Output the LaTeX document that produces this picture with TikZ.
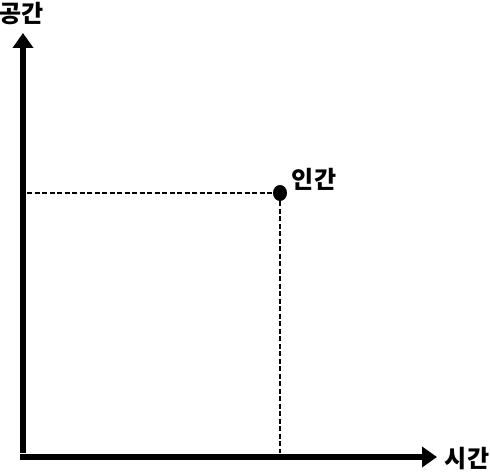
\documentclass[tikz,border=0pt]{standalone}
\usepackage{fontspec}
\newfontfamily\kr{Noto Sans CJK KR}[BoldFont={Noto Sans CJK KR Black}]
\usetikzlibrary{arrows.meta}
\usetikzlibrary{shapes.geometric}
\usetikzlibrary{positioning}

\begin{document}
\begin{tikzpicture}[x=1pt,y=-1pt,axis/.style={line width=6.5pt,-{Triangle[width=20pt,length=15pt]}},guide/.style={line width=1.4pt,dash pattern=on 5pt off 2.5pt},lbl/.style={font=\kr\bfseries\fontsize{24}{26}\selectfont,inner sep=0pt}]
			\useasboundingbox (0,0) rectangle (490,473);
			
			\coordinate (o) at (23,457);
			\coordinate (ytop) at (23,33);
			\coordinate (xend) at (437,457);
			\node[lbl] (space) at (22,14) {공간};
			\node[lbl] (time) at (467,459) {시간};
			
			\node[fill=black,ellipse,minimum width=14pt,minimum height=16pt,inner sep=0pt] (human) at (280,193) {};
			\node[lbl] (hlabel) at (314,179) {인간};
			\coordinate (hy) at (27,193);
			\coordinate (hx) at (280,453);
			
			\draw[guide] (hy) -- (human);
			\draw[guide] (human) -- (hx);
			
			\draw[axis] ([yshift=4pt]o) -- (ytop);
			\draw[axis] ([xshift=-3pt]o) -- (xend);
			
\end{tikzpicture}
\end{document}
